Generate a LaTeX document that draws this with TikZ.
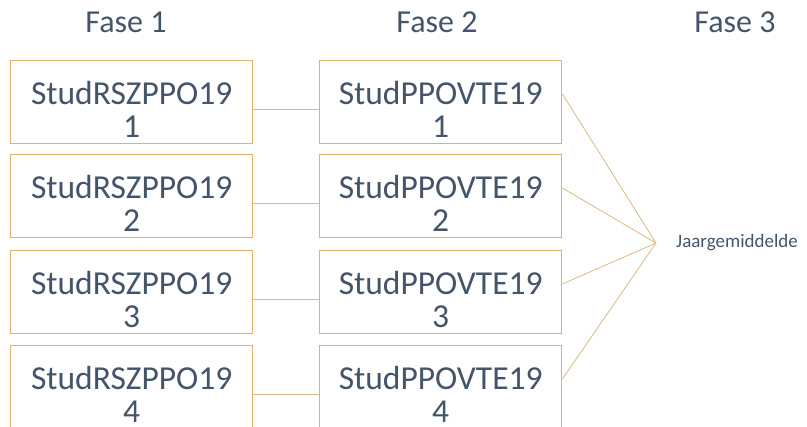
\documentclass[tikz,border=0pt]{standalone}
\usepackage{fontspec}
\setmainfont{Carlito}
\usetikzlibrary{positioning}
\definecolor{txt}{RGB}{68,84,106}
\definecolor{boxc}{RGB}{228,176,108}
\definecolor{linec}{RGB}{216,186,132}
\begin{document}
\begin{tikzpicture}[x=1pt,y=-1pt,
  stbox/.style={draw=boxc,line width=1.4pt,fill=white,minimum width=242pt,minimum height=83pt,
    inner sep=0pt,align=center,text=txt,font=\fontsize{33.5}{33}\selectfont,
    text height=70pt,text depth=0pt},
  hdr/.style={text=txt,font=\fontsize{32}{32}\selectfont,anchor=base,inner sep=0pt},
  conn/.style={draw=linec,line width=0.8pt}]
\useasboundingbox (0,0) rectangle (807,427);
\node[hdr] (f1) at (126,33) {Fase 1};
\node[hdr] (f2) at (437,33) {Fase 2};
\node[hdr] (f3) at (735,33) {Fase 3};
\foreach \i/\y in {1/60,2/154,3/250,4/345}{
  \node[stbox,anchor=north west] (L\i) at (10,\y) {StudRSZPPO19\\\i};
  \node[stbox,anchor=north west] (R\i) at (319,\y) {StudPPOVTE19\\\i};
}
\node[text=txt,font=\fontsize{19}{19}\selectfont,anchor=base west,inner sep=0pt] (J) at (676,248) {Jaargemiddelde};
\coordinate (hub) at (656,243);
\foreach \i in {1,...,4}{
  \draw[conn] ([yshift=-49pt]L\i.north east) -- ([yshift=-49pt]R\i.north west);
  \draw[conn] ([yshift=-34pt]R\i.north east) -- (hub);
}
\end{tikzpicture}
\end{document}
